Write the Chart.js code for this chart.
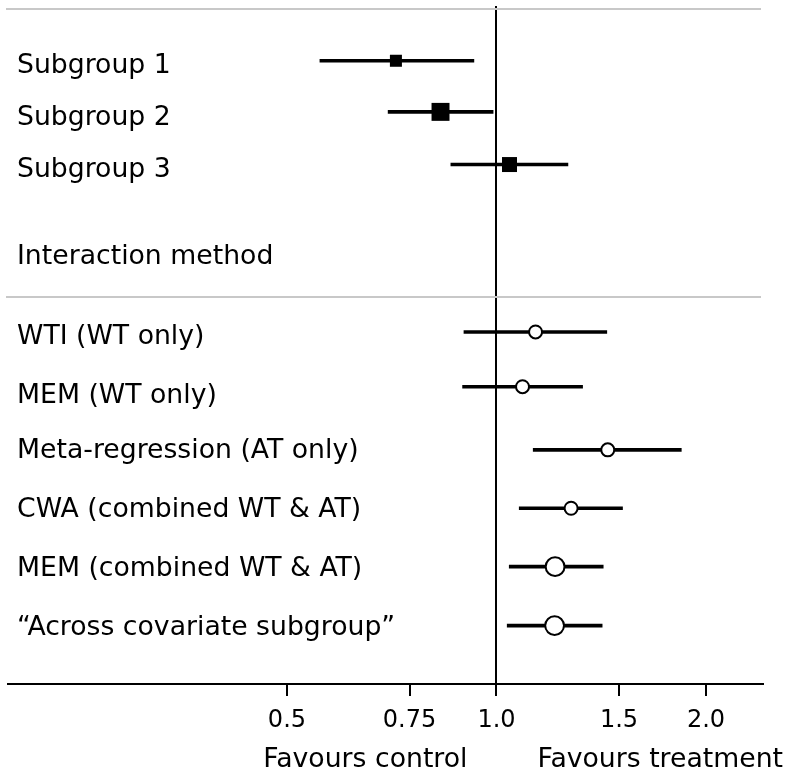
<!DOCTYPE html>
<html>
<head>
<meta charset="utf-8">
<script src="https://cdn.jsdelivr.net/npm/chart.js@4"></script>
<style>
  html, body { margin: 0; padding: 0; background: #fff; }
  #wrap { width: 789px; height: 777px; }
</style>
</head>
<body>
<div id="wrap"><canvas id="forest"></canvas></div>
<script>
/* global Chart */

// Row labels, top to bottom ("Interaction method" is a header row with no estimate)
const rowLabels = [
  'Subgroup 1', 'Subgroup 2', 'Subgroup 3',
  'Interaction method',
  'WTI (WT only)', 'MEM (WT only)', 'Meta-regression (AT only)',
  'CWA (combined WT & AT)', 'MEM (combined WT & AT)',
  '\u201CAcross covariate subgroup\u201D',
];

// Subgroup effects (ratio scale) with lower / upper confidence limits
const subgroupEst = [0.717, 0.831, 1.044];
const subgroupLo  = [0.557, 0.698, 0.859];
const subgroupHi  = [0.929, 0.990, 1.268];

// Interaction estimates by method
const methodEst = [1.138, 1.090, 1.445, 1.280, 1.214, 1.212];
const methodLo  = [0.897, 0.893, 1.128, 1.077, 1.042, 1.035];
const methodHi  = [1.442, 1.331, 1.845, 1.519, 1.425, 1.420];

// Axis ticks
const xTicks = [0.5, 0.75, 1, 1.5, 2];
const xTickLabels = ['0.5', '0.75', '1.0', '1.5', '2.0'];

/* ---- layout (row units on a reversed 0..13 scale) ---- */
const subgroupRows = [1.05, 2.03, 3.04];
const methodRows   = [6.25, 7.30, 8.51, 9.63, 10.75, 11.88];
const labelRows    = [1.15, 2.14, 3.15, 4.81, 6.35, 7.47, 8.53, 9.67, 10.80, 11.93];
const dividerRows  = [0.06, 5.58];
const squareRadius = [8.5, 12.7, 10.6];
const circleRadius = [6.5, 6.5, 6.5, 6.5, 9.4, 9.4];

const FONT = 'DejaVu Sans, Verdana, sans-serif';

const ciDatasets = [];
subgroupEst.forEach((_, i) => {
  ciDatasets.push({ data: [{ x: subgroupLo[i], y: subgroupRows[i] }, { x: subgroupHi[i], y: subgroupRows[i] }] });
});
methodEst.forEach((_, i) => {
  ciDatasets.push({ data: [{ x: methodLo[i], y: methodRows[i] }, { x: methodHi[i], y: methodRows[i] }] });
});

const datasets = [
  {
    label: 'subgroups',
    data: subgroupEst.map((v, i) => ({ x: v, y: subgroupRows[i] })),
    pointStyle: 'rect',
    pointRadius: squareRadius,
    backgroundColor: '#000',
    borderWidth: 0,
    order: 0,
  },
  {
    label: 'methods',
    data: methodEst.map((v, i) => ({ x: v, y: methodRows[i] })),
    pointStyle: 'circle',
    pointRadius: circleRadius,
    backgroundColor: '#fff',
    borderColor: '#000',
    borderWidth: 2,
    order: 0,
  },
  ...ciDatasets.map(d => ({
    ...d,
    type: 'line',
    showLine: true,
    borderColor: '#000',
    borderWidth: 3.6,
    pointRadius: 0,
    order: 1,
  })),
];

/* Row text, divider rules and the favours captions */
const forestDecor = {
  id: 'forestDecor',
  beforeDatasetsDraw(chart) {
    const { ctx, chartArea, scales: { y } } = chart;
    ctx.save();
    ctx.strokeStyle = '#c8c8c8';
    ctx.lineWidth = 2;
    dividerRows.forEach(r => {
      const py = Math.round(y.getPixelForValue(r));
      ctx.beginPath();
      ctx.moveTo(chartArea.left - 2, py);
      ctx.lineTo(chartArea.right - 2, py);
      ctx.stroke();
    });
    ctx.restore();
  },
  afterDraw(chart) {
    const { ctx, chartArea, scales: { x, y } } = chart;
    ctx.save();
    ctx.fillStyle = '#000';
    ctx.font = '26.7px ' + FONT;
    ctx.textBaseline = 'middle';
    ctx.textAlign = 'left';
    rowLabels.forEach((t, i) => {
      ctx.fillText(t, chartArea.left + 9, y.getPixelForValue(labelRows[i]));
    });
    const x1 = x.getPixelForValue(1);
    ctx.textAlign = 'right';
    ctx.fillText('Favours control', x1 - 29, 760);
    ctx.textAlign = 'left';
    ctx.fillText('Favours treatment', x1 + 41, 760);
    ctx.restore();
  },
};

new Chart(document.getElementById('forest'), {
  type: 'scatter',
  data: { datasets },
  options: {
    responsive: true,
    maintainAspectRatio: false,
    animation: false,
    layout: { autoPadding: false, padding: { left: 8, right: 26, top: 6, bottom: 0 } },
    plugins: { legend: { display: false }, tooltip: { enabled: false } },
    scales: {
      x: {
        type: 'logarithmic',
        min: 0.1987,
        max: 2.415,
        afterBuildTicks: scale => { scale.ticks = xTicks.map(v => ({ value: v })); },
        afterFit: scale => { scale.height = 93; },
        border: { display: true, color: '#000', width: 2 },
        grid: {
          drawOnChartArea: true,
          color: c => (c.tick && c.tick.value === 1 ? '#000' : 'rgba(0,0,0,0)'),
          lineWidth: 2,
          tickColor: '#000',
          tickLength: 12,
          tickWidth: 2,
        },
        ticks: {
          color: '#000',
          padding: 10,
          autoSkip: false,
          maxRotation: 0,
          font: { family: FONT, size: 24 },
          callback: (v) => {
            const i = xTicks.indexOf(v);
            return i >= 0 ? xTickLabels[i] : '';
          },
        },
      },
      y: {
        type: 'linear',
        display: false,
        reverse: true,
        min: 0,
        max: 13,
      },
    },
  },
  plugins: [forestDecor],
});
</script>
</body>
</html>
